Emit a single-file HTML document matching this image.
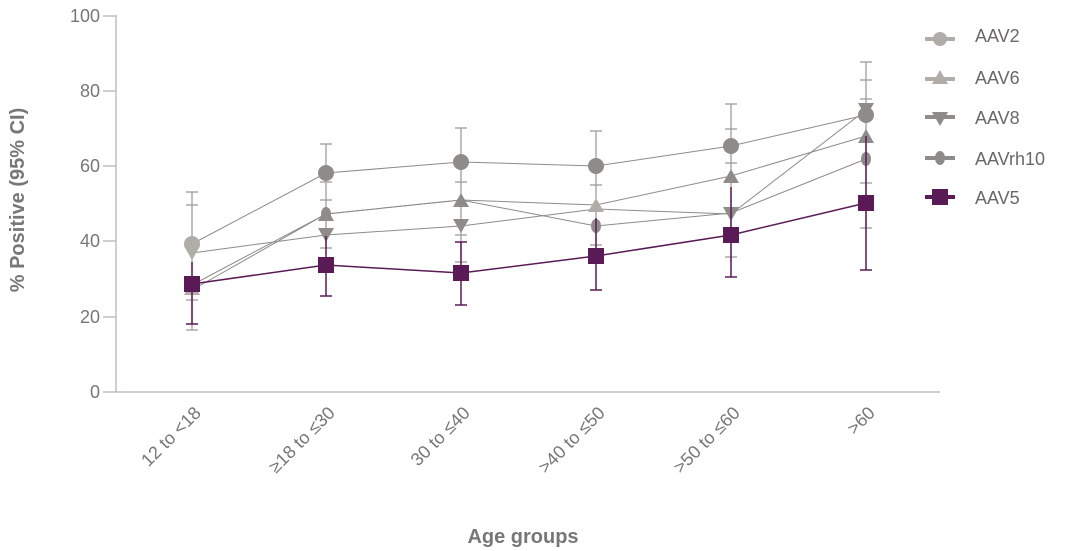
<!DOCTYPE html>
<html><head><meta charset="utf-8"><style>body{margin:0;background:#fff}svg{display:block;font-family:"Liberation Sans",sans-serif}</style></head><body>
<svg width="1068" height="551" viewBox="0 0 1068 551">
<g stroke="#b8b4b0" stroke-width="1.3" fill="none">
<line x1="116" y1="15" x2="116" y2="392"/><line x1="103" y1="392" x2="940" y2="392"/>
<line x1="103" y1="16" x2="116" y2="16"/><line x1="103" y1="91" x2="116" y2="91"/><line x1="103" y1="166" x2="116" y2="166"/><line x1="103" y1="241" x2="116" y2="241"/><line x1="103" y1="317" x2="116" y2="317"/>
</g>
<g font-size="18" fill="#777" text-anchor="end">
<text x="100" y="22">100</text><text x="100" y="97">80</text><text x="100" y="172">60</text><text x="100" y="247">40</text><text x="100" y="323">20</text><text x="100" y="398">0</text>
</g>
<g font-size="18" fill="#777" text-anchor="end">
<text transform="translate(202,414) rotate(-45)">12 to &lt;18</text>
<text transform="translate(336,414) rotate(-45)">≥18 to ≤30</text>
<text transform="translate(471,414) rotate(-45)">30 to ≤40</text>
<text transform="translate(606,414) rotate(-45)">&gt;40 to ≤50</text>
<text transform="translate(741,414) rotate(-45)">&gt;50 to ≤60</text>
<text transform="translate(876,414) rotate(-45)">&gt;60</text>
</g>
<text x="523" y="543" font-size="20" font-weight="bold" fill="#777" text-anchor="middle">Age groups</text>
<text transform="translate(24,200) rotate(-90)" font-size="20" font-weight="bold" fill="#777" text-anchor="middle">% Positive (95% CI)</text>
<g stroke="#a09c99" stroke-width="1.3">
<line x1="192" y1="192" x2="192" y2="330"/><line x1="186" y1="192" x2="198" y2="192"/><line x1="186" y1="205" x2="198" y2="205"/><line x1="186" y1="300" x2="198" y2="300"/><line x1="186" y1="330" x2="198" y2="330"/>
<line x1="326" y1="144" x2="326" y2="248"/><line x1="320" y1="144" x2="332" y2="144"/><line x1="320" y1="182" x2="332" y2="182"/><line x1="320" y1="200" x2="332" y2="200"/><line x1="320" y1="248" x2="332" y2="248"/>
<line x1="461" y1="128" x2="461" y2="262"/><line x1="455" y1="128" x2="467" y2="128"/><line x1="455" y1="182" x2="467" y2="182"/><line x1="455" y1="235" x2="467" y2="235"/><line x1="455" y1="262" x2="467" y2="262"/>
<line x1="596" y1="131" x2="596" y2="245"/><line x1="590" y1="131" x2="602" y2="131"/><line x1="590" y1="185" x2="602" y2="185"/><line x1="590" y1="245" x2="602" y2="245"/>
<line x1="731" y1="104" x2="731" y2="262"/><line x1="725" y1="104" x2="737" y2="104"/><line x1="725" y1="129" x2="737" y2="129"/><line x1="725" y1="163" x2="737" y2="163"/><line x1="725" y1="257" x2="737" y2="257"/>
<line x1="866" y1="62" x2="866" y2="228"/><line x1="860" y1="62" x2="872" y2="62"/><line x1="860" y1="80" x2="872" y2="80"/><line x1="860" y1="99" x2="872" y2="99"/><line x1="860" y1="183" x2="872" y2="183"/><line x1="860" y1="228" x2="872" y2="228"/>
</g>
<g stroke="#8e8b89" stroke-width="1" fill="none">
<polyline points="192,244 326,173 461,162 596,166 731,146 866,115"/>
<polyline points="192,290 326,214 461,200 596,205 731,176 866,136"/>
<polyline points="192,253 326,235 461,226 596,209 731,214 866,110"/>
<polyline points="192,285 326,214 461,200 596,226 731,213 866,159"/>
</g>
<g fill="#8e8b89">
<circle cx="192" cy="244" r="8" fill="#b0aca8"/><circle cx="326" cy="173" r="8"/><circle cx="461" cy="162" r="8"/><circle cx="596" cy="166" r="8"/><circle cx="731" cy="146" r="8"/><circle cx="866" cy="115" r="8"/>
<path d="M192,281 l8,14 h-16z" fill="#b0aca8"/><path d="M326,207 l8,14 h-16z"/><path d="M461,193 l8,14 h-16z"/><path d="M596,198 l8,14 h-16z" fill="#b0aca8"/><path d="M731,169 l8,14 h-16z"/><path d="M866,129 l8,14 h-16z"/>
<path d="M192,260 l8,-14 h-16z" fill="#b0aca8"/><path d="M326,242 l8,-14 h-16z"/><path d="M461,233 l8,-14 h-16z"/><path d="M731,221 l8,-14 h-16z"/><path d="M866,117 l8,-14 h-16z"/>
<ellipse cx="326" cy="214" rx="5" ry="7"/><ellipse cx="596" cy="226" rx="5" ry="7"/><ellipse cx="866" cy="159" rx="5" ry="7"/>
</g>
<g stroke="#5a1a55" stroke-width="1.5" fill="none">
<polyline points="192,284 326,265 461,273 596,256 731,235 866,203"/>
<line x1="192" y1="262" x2="192" y2="324"/><line x1="186" y1="324" x2="198" y2="324"/>
<line x1="326" y1="236" x2="326" y2="296"/><line x1="320" y1="296" x2="332" y2="296"/>
<line x1="461" y1="242" x2="461" y2="305"/><line x1="455" y1="242" x2="467" y2="242"/><line x1="455" y1="305" x2="467" y2="305"/>
<line x1="596" y1="218" x2="596" y2="290"/><line x1="590" y1="290" x2="602" y2="290"/>
<line x1="731" y1="187" x2="731" y2="277"/><line x1="725" y1="277" x2="737" y2="277"/>
<line x1="866" y1="136" x2="866" y2="270"/><line x1="860" y1="270" x2="872" y2="270"/>
</g>
<g fill="#5a1a55">
<rect x="184" y="276" width="16" height="16"/><rect x="318" y="257" width="16" height="16"/><rect x="453" y="265" width="16" height="16"/><rect x="588" y="248" width="16" height="16"/><rect x="723" y="227" width="16" height="16"/><rect x="858" y="195" width="16" height="16"/>
</g>
<g stroke-width="4">
<line x1="925" y1="39" x2="955" y2="39" stroke="#b0aca8"/><circle cx="940" cy="39" r="7" fill="#b0aca8"/>
<line x1="925" y1="79" x2="955" y2="79" stroke="#b0aca8"/><path d="M940,70 l8,14 h-16z" fill="#b0aca8"/>
<line x1="925" y1="117" x2="955" y2="117" stroke="#8e8b89"/><path d="M940,126 l8,-14 h-16z" fill="#8e8b89"/>
<line x1="925" y1="158" x2="955" y2="158" stroke="#8e8b89"/><ellipse cx="940" cy="158" rx="5" ry="7" fill="#8e8b89"/>
<line x1="925" y1="197" x2="955" y2="197" stroke="#5a1a55"/><rect x="932" y="189" width="16" height="16" fill="#5a1a55"/>
</g>
<g font-size="18" fill="#6b6866">
<text x="975" y="42">AAV2</text><text x="975" y="84">AAV6</text><text x="975" y="124">AAV8</text><text x="975" y="165">AAVrh10</text><text x="975" y="204">AAV5</text>
</g>
</svg>
</body></html>
